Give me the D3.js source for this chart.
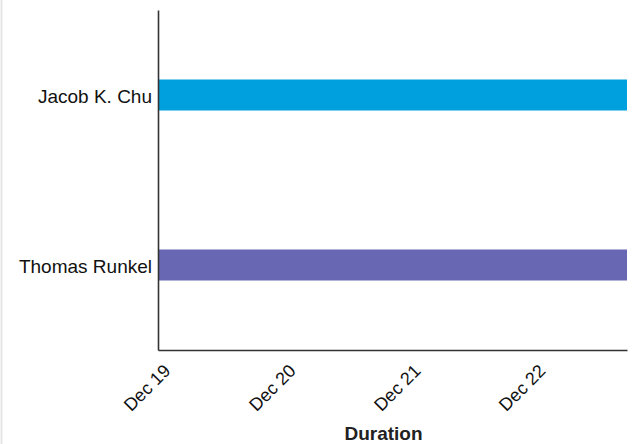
<!DOCTYPE html>
<html>
<head>
<meta charset="utf-8">
<script src="https://cdn.jsdelivr.net/npm/d3@7"></script>
<style>
  body { margin: 0; background: #fff; font-family: "Liberation Sans", Arial, sans-serif; }
  .axis path { stroke: #333; stroke-width: 1.6px; }
</style>
</head>
<body>
<div id="chart"></div>
<script>
// data
var people = ["Jacob K. Chu", "Thomas Runkel"];
var startDates = ["2019-12-01", "2019-12-01"];
var endDates = ["2023-09-01", "2023-09-01"];
var barColors = ["#00a0df", "#6767b3"];
var tickDates = ["2019-12-01", "2020-12-01", "2021-12-01", "2022-12-01"];

var svgWidth = 638;
var svgHeight = 444;

var margin = { top: 10, right: 11, bottom: 94, left: 158 };
var width = svgWidth - margin.left - margin.right;
var height = svgHeight - margin.top - margin.bottom;

var parse = d3.timeParse("%Y-%m-%d");

var svg = d3.select("#chart")
  .append("svg")
  .attr("width", svgWidth)
  .attr("height", svgHeight);

// faint page border on the left
svg.append("line")
  .attr("x1", 1.5).attr("x2", 1.5)
  .attr("y1", 0).attr("y2", svgHeight)
  .attr("stroke", "#e6e6e6")
  .attr("stroke-width", 2);

var chartGroup = svg.append("g")
  .attr("transform", `translate(${margin.left}, ${margin.top})`);

var xScale = d3.scaleTime()
  .domain([parse(startDates[0]), d3.max(endDates, d => parse(d))])
  .range([0, width]);

var yScale = d3.scalePoint()
  .domain(people)
  .range([0, height])
  .padding(0.5);

var barHeight = 31;

// bars
chartGroup.selectAll("rect")
  .data(people)
  .enter()
  .append("rect")
  .attr("x", (d, i) => xScale(parse(startDates[i])))
  .attr("width", (d, i) => xScale(parse(endDates[i])) - xScale(parse(startDates[i])))
  .attr("y", d => yScale(d) - barHeight / 2)
  .attr("height", barHeight)
  .attr("fill", (d, i) => barColors[i]);

// x axis
var bottomAxis = d3.axisBottom(xScale)
  .tickValues(tickDates.map(parse))
  .tickFormat(d3.timeFormat("%b %y"))
  .tickSize(0)
  .tickSizeOuter(0);

var xAxis = chartGroup.append("g")
  .classed("axis", true)
  .attr("transform", `translate(0, ${height})`)
  .call(bottomAxis);

xAxis.selectAll("text")
  .attr("x", 0)
  .attr("y", 0)
  .attr("dy", 0)
  .attr("transform", "translate(13, 22) rotate(-45)")
  .style("text-anchor", "end")
  .attr("font-size", "18px")
  .attr("font-family", "Liberation Sans, Arial, sans-serif")
  .attr("fill", "#111");

// y axis
var leftAxis = d3.axisLeft(yScale)
  .tickSize(0)
  .tickSizeOuter(0)
  .tickPadding(6);

var yAxis = chartGroup.append("g")
  .classed("axis", true)
  .call(leftAxis);

yAxis.selectAll("text")
  .attr("font-size", "19px")
  .attr("dy", "0.4em")
  .attr("font-family", "Liberation Sans, Arial, sans-serif")
  .attr("fill", "#111");

// axis title
chartGroup.append("text")
  .attr("x", width / 2 - 9)
  .attr("y", height + 90)
  .attr("text-anchor", "middle")
  .attr("font-size", "19px")
  .attr("font-weight", "bold")
  .attr("fill", "#222")
  .text("Duration");
</script>
</body>
</html>
